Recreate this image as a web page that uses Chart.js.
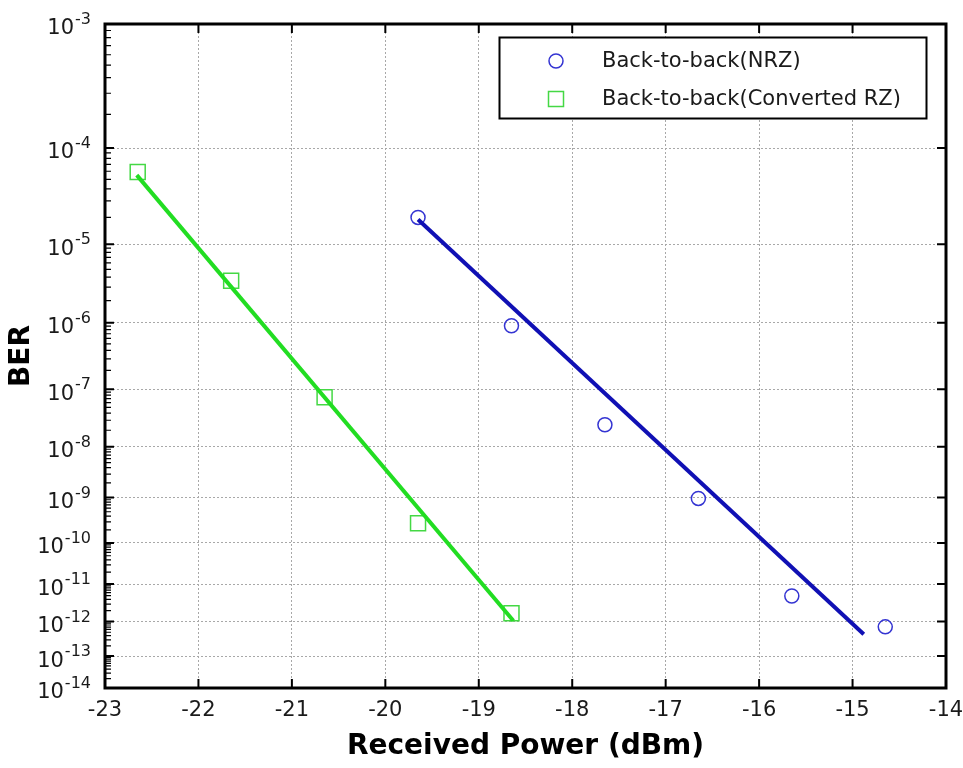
<!DOCTYPE html>
<html>
<head>
<meta charset="utf-8">
<script src="https://cdn.jsdelivr.net/npm/chart.js@4.4.1/dist/chart.umd.min.js"></script>
<style>
  html, body { margin: 0; padding: 0; background: #fff; }
  #wrap { width: 963px; height: 768px; }
</style>
</head>
<body>
<div id="wrap"><canvas id="myChart" width="963" height="768"></canvas></div>
<script>
// measured points
const nrzPower = [-19.65, -18.65, -17.65, -16.65, -15.65, -14.65];
const nrzBer = [2.0e-5, 9.1e-7, 2.5e-8, 9.6e-10, 4.9e-12, 7.1e-13];
const rzPower = [-22.65, -21.65, -20.65, -19.65, -18.65];
const rzBer = [5.9e-5, 3.6e-6, 7.4e-8, 2.8e-10, 1.7e-12];

// fitted lines (end points)
const nrzFitPower = [-19.65, -14.88];
const nrzFitBer = [1.9e-5, 4.4e-13];
const rzFitPower = [-22.66, -18.63];
const rzFitBer = [5.5e-5, 1.05e-12];

const xTicks = [-23, -22, -21, -20, -19, -18, -17, -16, -15, -14];
const yExponents = [-3, -4, -5, -6, -7, -8, -9, -10, -11, -12, -13, -14];
const legendLabels = ['Back-to-back(NRZ)', 'Back-to-back(Converted RZ)'];

const blueLine = '#1010b4';
const blueMark = '#3434d2';
const greenLine = '#22dd22';
const greenMark = '#44d844';

const toXY = (xs, ys) => xs.map((x, i) => ({ x: x, y: ys[i] }));

// BER axis: linear in log10(-log10(BER))
const qf = v => -Math.log10(-Math.log10(v));
class BerScale extends Chart.Scale {
  static id = 'ber';
  static defaults = {};
  parse(raw) { return +raw; }
  determineDataLimits() { this.min = this.options.min; this.max = this.options.max; }
  buildTicks() { return yExponents.map(e => ({ value: Math.pow(10, e) })); }
  configure() {
    super.configure();
    this._lo = qf(this.min);
    this._hi = qf(this.max);
  }
  getLabelForValue(v) { return v.toExponential(1); }
  getPixelForValue(v) {
    return this.getPixelForDecimal((qf(v) - this._lo) / (this._hi - this._lo));
  }
  getValueForPixel(px) {
    const t = this._lo + this.getDecimalForPixel(px) * (this._hi - this._lo);
    return Math.pow(10, -Math.pow(10, -t));
  }
}
Chart.register(BerScale);

const framePlugin = {
  id: 'frame',
  afterDraw(chart) {
    const { ctx, chartArea: a, scales } = chart;
    const xs = scales.x, ys = scales.y;
    ctx.save();
    ctx.strokeStyle = '#000';
    // tick marks
    ctx.lineWidth = 2;
    ctx.beginPath();
    xTicks.forEach(t => {
      const px = xs.getPixelForValue(t);
      ctx.moveTo(px, a.bottom); ctx.lineTo(px, a.bottom - 9);
      ctx.moveTo(px, a.top); ctx.lineTo(px, a.top + 9);
    });
    yExponents.forEach(e => {
      const py = ys.getPixelForValue(Math.pow(10, e));
      ctx.moveTo(a.left, py); ctx.lineTo(a.left + 9, py);
      ctx.moveTo(a.right, py); ctx.lineTo(a.right - 9, py);
    });
    ctx.stroke();
    ctx.lineWidth = 1.2;
    ctx.beginPath();
    yExponents.slice(0, -1).forEach(e => {
      for (let m = 2; m <= 9; m++) {
        const py = ys.getPixelForValue(m * Math.pow(10, e - 1));
        ctx.moveTo(a.left, py); ctx.lineTo(a.left + 6, py);
      }
    });
    ctx.stroke();
    // box
    ctx.lineWidth = 3;
    ctx.strokeRect(a.left, a.top, a.right - a.left, a.bottom - a.top);

    // y tick labels 10^n
    ctx.fillStyle = '#1a1a1a';
    ctx.textBaseline = 'middle';
    ctx.textAlign = 'right';
    yExponents.forEach(e => {
      const py = ys.getPixelForValue(Math.pow(10, e));
      ctx.font = '16px "DejaVu Sans"';
      const exp = String(e);
      const ew = ctx.measureText(exp).width;
      ctx.fillText(exp, 91, py - 4);
      ctx.font = '21px "DejaVu Sans"';
      ctx.fillText('10', 91 - ew - 1, py + 5);
    });

    // legend
    const lx = 499.5, ly = 37.5, lw = 427, lh = 81;
    ctx.fillStyle = '#fff';
    ctx.fillRect(lx, ly, lw, lh);
    ctx.lineWidth = 2;
    ctx.strokeStyle = '#000';
    ctx.strokeRect(lx, ly, lw, lh);
    ctx.lineWidth = 1.5;
    ctx.strokeStyle = blueMark;
    ctx.beginPath();
    ctx.arc(556, 61, 7, 0, Math.PI * 2);
    ctx.stroke();
    ctx.strokeStyle = greenMark;
    ctx.strokeRect(548.5, 91.5, 15, 15);
    ctx.fillStyle = '#1a1a1a';
    ctx.textAlign = 'left';
    ctx.font = '21px "DejaVu Sans"';
    ctx.fillText(legendLabels[0], 602, 62);
    ctx.fillText(legendLabels[1], 602, 100);
    ctx.restore();
  }
};

const ctx = document.getElementById('myChart').getContext('2d');

new Chart(ctx, {
  type: 'scatter',
  data: {
    datasets: [
      {
        label: 'NRZ fit',
        data: toXY(nrzFitPower, nrzFitBer),
        showLine: true,
        borderColor: blueLine,
        borderWidth: 4,
        pointRadius: 0
      },
      {
        label: 'RZ fit',
        data: toXY(rzFitPower, rzFitBer),
        showLine: true,
        borderColor: greenLine,
        borderWidth: 4,
        pointRadius: 0
      },
      {
        label: legendLabels[0],
        data: toXY(nrzPower, nrzBer),
        pointStyle: 'circle',
        pointRadius: 7,
        borderWidth: 1.5,
        borderColor: blueMark,
        backgroundColor: 'rgba(0,0,0,0)'
      },
      {
        label: legendLabels[1],
        data: toXY(rzPower, rzBer),
        pointStyle: 'rect',
        pointRadius: 10.6,
        borderWidth: 1.5,
        borderColor: greenMark,
        backgroundColor: 'rgba(0,0,0,0)'
      }
    ]
  },
  options: {
    responsive: false,
    animation: false,
    layout: { padding: { top: 24, right: 17, left: 0, bottom: 0 } },
    plugins: {
      legend: { display: false },
      tooltip: { enabled: false }
    },
    scales: {
      x: {
        type: 'linear',
        min: -23,
        max: -14,
        afterBuildTicks: s => { s.ticks = xTicks.map(v => ({ value: v })); },
        afterFit: s => { s.height = 80; s.paddingLeft = 0; s.paddingRight = 0; },
        grid: { color: '#a8a8a8', drawTicks: false, lineWidth: 1 },
        border: { display: false, dash: [2, 2] },
        ticks: {
          padding: 10,
          color: '#1a1a1a',
          font: { family: 'DejaVu Sans', size: 21 }
        },
        title: {
          display: true,
          text: 'Received Power (dBm)',
          color: '#000',
          font: { family: 'DejaVu Sans', size: 28, weight: 'bold' },
          padding: { top: 0, bottom: 4 }
        }
      },
      y: {
        type: 'ber',
        min: 1e-14,
        max: 1e-3,
        afterFit: s => { s.width = 105; },
        grid: { color: '#a8a8a8', drawTicks: false, lineWidth: 1 },
        border: { display: false, dash: [2, 2] },
        ticks: { display: false },
        title: {
          display: true,
          text: 'BER',
          color: '#000',
          font: { family: 'DejaVu Sans', size: 28, weight: 'bold' },
          padding: { top: 5, bottom: 0 }
        }
      }
    }
  },
  plugins: [framePlugin]
});
</script>
</body>
</html>
